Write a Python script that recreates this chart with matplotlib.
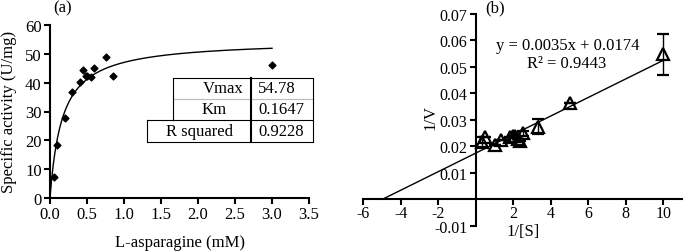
import numpy as np
import matplotlib
matplotlib.use('Agg')
import matplotlib.pyplot as plt
from matplotlib.lines import Line2D

plt.rcParams['font.family'] = ['Liberation Serif', 'DejaVu Serif']
plt.rcParams['font.size'] = 12

# (a) Michaelis-Menten data
substrate = [0.05, 0.1, 0.2, 0.3, 0.4, 0.45, 0.48, 0.5, 0.55, 0.6, 0.75, 0.85, 3.0]
activity = [7.2, 18.5, 27.6, 36.7, 40.4, 44.4, 42.4, 42.4, 41.9, 45.1, 48.9, 42.4, 46.0]
vmax = 54.78
km = 0.1647
r_squared = 0.9228

# (b) Lineweaver-Burk data
inv_s = [0.33, 0.5, 1.0, 1.33, 1.85, 2.0, 2.1, 2.25, 2.35, 2.5, 3.33, 5.0, 10.0]
inv_v = [0.0215, 0.0236, 0.0205, 0.0222, 0.0236, 0.0240, 0.0238, 0.0226, 0.0220, 0.0248, 0.0273, 0.0362, 0.0547]
inv_v_err = [0.0018, 0.0, 0.0, 0.0, 0.0, 0.0, 0.0, 0.0, 0.0, 0.001, 0.0028, 0.0, 0.0077]
slope = 0.0035
intercept = 0.0174
lb_r2 = 0.9443

W, H = 685, 253
fig = plt.figure(figsize=(W / 100, H / 100), dpi=100)


def fx(px):
    return px / W


def fy(py):
    return 1 - py / H


# ---------- panel (a) ----------
ax1 = fig.add_axes([fx(50), fy(199), fx(309) - fx(50), fy(26) - fy(199)])
ax1.scatter(substrate, activity, marker='D', s=12, color='black', zorder=3)
xs = np.linspace(0, 3.0, 300)
ax1.plot(xs, vmax * xs / (km + xs), color='black', lw=1)
ax1.set_xlim(0, 3.5)
ax1.set_ylim(0, 60)
ax1.set_xticks(np.arange(0, 3.51, 0.5))
ax1.set_xticklabels([f'{v:.1f}' for v in np.arange(0, 3.51, 0.5)])
ax1.set_yticks(range(0, 61, 10))
for s in ['top', 'right']:
    ax1.spines[s].set_visible(False)
for s in ['left', 'bottom']:
    ax1.spines[s].set_linewidth(1.5)
ax1.tick_params(width=1.5, length=4, pad=2)
fig.text(fx(180), fy(243), 'L-asparagine (mM)', ha='center', va='center')
fig.text(fx(9), fy(112), 'Specific activity (U/mg)', ha='center', va='center', rotation=90)
fig.text(fx(63), fy(8), '(a)', ha='center', va='center')

# table of fit parameters
tab_lines = [
    ((173, 79), (313, 79), 'black'),
    ((173, 100), (313, 100), '#bbbbbb'),
    ((147, 121), (313, 121), 'black'),
    ((147, 143), (313, 143), 'black'),
    ((173, 79), (173, 121), 'black'),
    ((147, 121), (147, 143), 'black'),
    ((313, 79), (313, 143), 'black'),
    ((251, 79), (251, 143), 'black'),
]
for (x0, y0), (x1, y1), c in tab_lines:
    lw = 1.5 if x0 == 251 and x1 == 251 else 0.8
    fig.add_artist(Line2D([fx(x0), fx(x1)], [fy(y0), fy(y1)], color=c, lw=lw))
fig.text(fx(244), fy(89.5), 'Vmax', ha='right', va='center')
fig.text(fx(214), fy(110.5), 'Km', ha='center', va='center')
fig.text(fx(200), fy(132), 'R squared', ha='center', va='center')
fig.text(fx(258), fy(89.5), f'{vmax:.2f}', ha='left', va='center')
fig.text(fx(258), fy(110.5), f'{km:.4f}', ha='left', va='center')
fig.text(fx(258), fy(132), f'{r_squared:.4f}', ha='left', va='center')

# ---------- panel (b) ----------
x_lo, x_hi = -6, 11
y_lo, y_hi = -0.01, 0.07
px_per_x = 18.75
ax2 = fig.add_axes([fx(363.3), fy(226.7), (x_hi - x_lo) * px_per_x / W, fy(14.7) - fy(226.7)])
ax2.set_xlim(x_lo, x_hi)
ax2.set_ylim(y_lo, y_hi)
x_int = -intercept / slope
lx = np.array([x_int, 10])
ax2.plot(lx, slope * lx + intercept, color='black', lw=1)
ax2.errorbar(inv_s, inv_v, yerr=inv_v_err, fmt='^', ms=9, mfc='none', mec='black',
             mew=1.6, ecolor='black', elinewidth=1, capsize=4, zorder=3)
ax2.spines['left'].set_position(('data', 0))
ax2.spines['bottom'].set_position(('data', 0))
for s in ['top', 'right']:
    ax2.spines[s].set_visible(False)
for s in ['left', 'bottom']:
    ax2.spines[s].set_linewidth(1.5)
ax2.set_xticks([-6, -4, -2, 2, 4, 6, 8, 10])
ax2.set_xticklabels(['-6', '-4', '-2', '2', '4', '6', '8', '10'])
ax2.set_yticks([-0.01, 0.01, 0.02, 0.03, 0.04, 0.05, 0.06, 0.07])
ax2.set_yticklabels(['-0.01', '0.01', '0.02', '0.03', '0.04', '0.05', '0.06', '0.07'])
ax2.tick_params(width=1.5, length=4, pad=2)
ax2.tick_params(axis='x', pad=0.5, labelsize=11.5)
ax2.tick_params(axis='y', labelsize=11.5)
fig.text(fx(523), fy(232), '1/[S]', ha='center', va='center')
fig.text(fx(430), fy(118), '1/V', ha='center', va='center', rotation=90)
fig.text(fx(495), fy(8), '(b)', ha='center', va='center')
fig.text(fx(568), fy(46), f'y = {slope}x + {intercept}', ha='center', va='center')
fig.text(fx(567), fy(64), f'R\u00b2 = {lb_r2}', ha='center', va='center')

fig.savefig('out.png', dpi=100)
